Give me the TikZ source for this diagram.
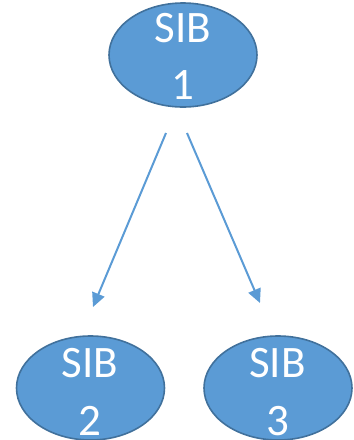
\documentclass[tikz,border=0pt]{standalone}
\usepackage{fontspec}
\setmainfont{Carlito}
\usetikzlibrary{arrows.meta,shapes.geometric}
\definecolor{sibfill}{HTML}{5B9BD5}
\definecolor{sibline}{HTML}{41719C}
\begin{document}
\begin{tikzpicture}[x=1pt,y=-1pt,
  sib/.style={ellipse,draw=sibline,fill=sibfill,line width=1.6pt,minimum width=148pt,minimum height=104pt,inner sep=0pt},
  sibtext/.style={anchor=base,text=white,inner sep=0pt,font=\fontsize{45}{50}\selectfont},
  link/.style={draw=sibfill,line width=2pt,-{Triangle[length=14pt,width=13pt]}}]
\useasboundingbox (0,0) rectangle (354,440);
\clip (0,0) rectangle (354,440);
\node[sib] (s1) at (183,55) {};
\node[sib] (s2) at (90.5,388) {};
\node[sib] (s3) at (278,388) {};
\node[sibtext] (s1a) at (183,42) {SIB};
\node[sibtext] (s1b) at (183,99) {1};
\node[sibtext] (s2a) at (90,377) {SIB};
\node[sibtext] (s2b) at (90,435) {2};
\node[sibtext] (s3a) at (277.5,377) {SIB};
\node[sibtext] (s3b) at (277.5,435) {3};
\coordinate (l1) at (166,133);
\coordinate (l2) at (93,307);
\coordinate (r1) at (187,133);
\coordinate (r2) at (260,303);
\draw[link] (l1) -- (l2);
\draw[link] (r1) -- (r2);
\end{tikzpicture}
\end{document}
